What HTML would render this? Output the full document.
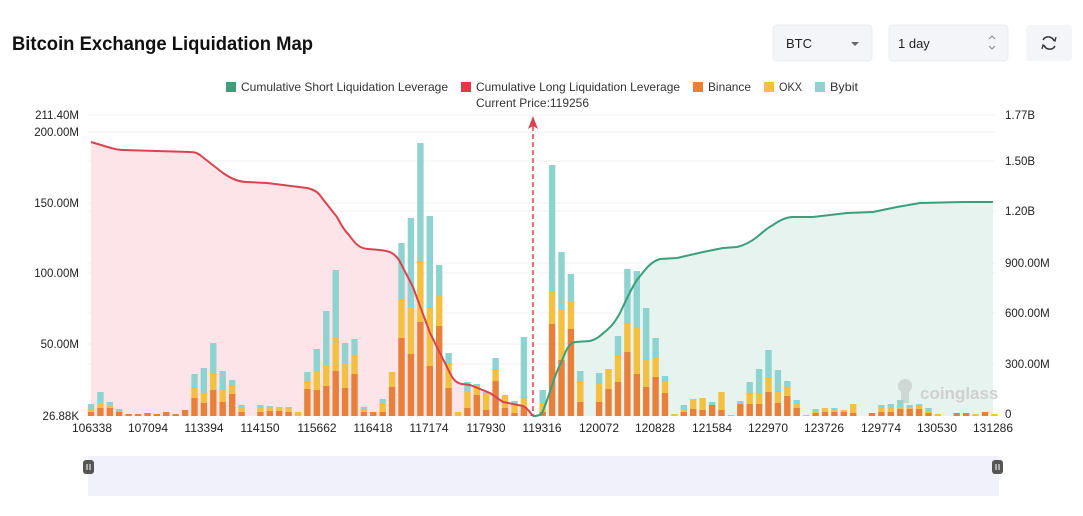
<!DOCTYPE html>
<html><head><meta charset="utf-8"><style>
html,body{margin:0;padding:0;background:#fff;}
svg{display:block;font-family:"Liberation Sans",sans-serif;}
</style></head><body>
<svg id="s" width="1083" height="516" viewBox="0 0 1083 516" xmlns="http://www.w3.org/2000/svg">
<text x="12" y="50" font-size="19" font-weight="bold" fill="#111" textLength="301" lengthAdjust="spacingAndGlyphs">Bitcoin Exchange Liquidation Map</text>
<rect x="773" y="25" width="99" height="36" rx="4" fill="#f4f5f8" stroke="#ebecef"/>
<text x="786" y="48" font-size="13" fill="#222">BTC</text>
<path d="M851 42 l4 4 l4 -4z" fill="#666"/>
<rect x="889" y="25" width="119" height="36" rx="4" fill="#f4f5f8" stroke="#ebecef"/>
<text x="898" y="48" font-size="13" fill="#222">1 day</text>
<path d="M989 39 l3 -3 l3 3 M989 46 l3 3 l3 -3" stroke="#888" fill="none" stroke-width="1"/>
<rect x="1026" y="25" width="46" height="36" rx="4" fill="#f4f5f8"/>
<path d="M1043 40 a6 6 0 0 1 11 1 M1055 46 a6 6 0 0 1 -11 -1" stroke="#333" fill="none" stroke-width="1.5"/>
<path d="M1052 38 l3 3 l1 -4 M1046 48 l-3 -3 l-1 4" stroke="#333" fill="none" stroke-width="1.3"/>
<g font-size="12" fill="#333">
<rect x="226" y="82" width="10" height="10" fill="#3aa07a"/><text x="241" y="91" textLength="207" lengthAdjust="spacingAndGlyphs">Cumulative Short Liquidation Leverage</text>
<rect x="461" y="82" width="10" height="10" fill="#e03848"/><text x="476" y="91" textLength="204" lengthAdjust="spacingAndGlyphs">Cumulative Long Liquidation Leverage</text>
<rect x="693" y="82" width="10" height="10" fill="#e8803a"/><text x="708" y="91" textLength="43" lengthAdjust="spacingAndGlyphs">Binance</text>
<rect x="764" y="82" width="10" height="10" fill="#f4c042"/><text x="779" y="91" textLength="23" lengthAdjust="spacingAndGlyphs">OKX</text>
<rect x="815" y="82" width="10" height="10" fill="#8ed3d0"/><text x="830" y="91" textLength="28" lengthAdjust="spacingAndGlyphs">Bybit</text>
<text x="476" y="107" textLength="113" lengthAdjust="spacingAndGlyphs">Current Price:119256</text>
</g>
<g stroke="#f0f0f0" stroke-width="1">
<line x1="88" x2="995" y1="115" y2="115"/><line x1="88" x2="995" y1="132" y2="132"/><line x1="88" x2="995" y1="161" y2="161"/><line x1="88" x2="995" y1="203" y2="203"/><line x1="88" x2="995" y1="211" y2="211"/><line x1="88" x2="995" y1="263" y2="263"/><line x1="88" x2="995" y1="273" y2="273"/><line x1="88" x2="995" y1="313" y2="313"/><line x1="88" x2="995" y1="344" y2="344"/><line x1="88" x2="995" y1="364" y2="364"/>
</g>
<g font-size="11.5" fill="#222">
<text x="79" y="119" text-anchor="end">211.40M</text>
<text x="79" y="136" text-anchor="end">200.00M</text>
<text x="79" y="207" text-anchor="end">150.00M</text>
<text x="79" y="277" text-anchor="end">100.00M</text>
<text x="79" y="348" text-anchor="end">50.00M</text>
<text x="79" y="420" text-anchor="end">26.88K</text>
<text x="1005" y="119">1.77B</text>
<text x="1005" y="165">1.50B</text>
<text x="1005" y="215">1.20B</text>
<text x="1005" y="267">900.00M</text>
<text x="1005" y="317">600.00M</text>
<text x="1005" y="368">300.00M</text>
<text x="1005" y="418">0</text>
</g>
<path d="M91 142 C105 146 115 150 123 150 L190 152 C195 152 197 153 200 155 L223 173 C233 180 240 182 247 182 L267 183 L307 188 C315 190 318 192 322 198 L337 217 C342 226 344 230 349 235 C355 243 358 248 368 249 L380 250 C390 251 394 253 399 260 L413 287 L430 333 L447 367 C452 378 455 383 462 384 L470 385 L490 393 L503 402 L523 406 C528 408 530 413 533 416 L91 416 Z" fill="#fce4e8"/>
<path d="M533 416 C538 416 540 415 542 413 C550 395 555 372 561 363 C566 350 569 343 575 342 L590 341 C598 339 602 334 607 330 C613 325 616 320 620 313 C627 298 632 287 637 280 C645 270 650 262 660 259 L677 258 L703 252 L723 248 L737 247 C745 245 752 241 757 237 C763 232 767 228 773 225 C780 220 786 217 793 217 L813 217 L847 213 L873 212 L897 207 L920 203 L963 202 L993 202 L993 416 Z" fill="#e6f3ef"/>
<g opacity="0.3"><circle cx="905" cy="386" r="7" fill="#999"/><rect x="901" y="391" width="8" height="12" fill="#999"/></g>
<text x="920" y="399" font-size="17" font-weight="bold" fill="#d0d0d0">coinglass</text>
<g id="bars"></g>
<path d="M91 142 C105 146 115 150 123 150 L190 152 C195 152 197 153 200 155 L223 173 C233 180 240 182 247 182 L267 183 L307 188 C315 190 318 192 322 198 L337 217 C342 226 344 230 349 235 C355 243 358 248 368 249 L380 250 C390 251 394 253 399 260 L413 287 L430 333 L447 367 C452 378 455 383 462 384 L470 385 L490 393 L503 402 L523 406 C528 408 530 413 533 416" fill="none" stroke="#d9434e" stroke-width="2"/>
<path d="M533 416 C538 416 540 415 542 413 C550 395 555 372 561 363 C566 350 569 343 575 342 L590 341 C598 339 602 334 607 330 C613 325 616 320 620 313 C627 298 632 287 637 280 C645 270 650 262 660 259 L677 258 L703 252 L723 248 L737 247 C745 245 752 241 757 237 C763 232 767 228 773 225 C780 220 786 217 793 217 L813 217 L847 213 L873 212 L897 207 L920 203 L963 202 L993 202" fill="none" stroke="#3aa07a" stroke-width="2"/>
<line x1="533" y1="126" x2="533" y2="416" stroke="#d9434e" stroke-width="1.5" stroke-dasharray="5,3"/>
<path d="M533 116 l-5 13 l5 -3 l5 3z" fill="#d9434e"/>
<g font-size="12" fill="#222" text-anchor="middle">
<text x="92" y="432">106338</text><text x="148" y="432">107094</text><text x="204" y="432">113394</text><text x="260" y="432">114150</text><text x="317" y="432">115662</text><text x="373" y="432">116418</text><text x="429" y="432">117174</text><text x="486" y="432">117930</text><text x="542" y="432">119316</text><text x="599" y="432">120072</text><text x="655" y="432">120828</text><text x="712" y="432">121584</text><text x="768" y="432">122970</text><text x="824" y="432">123726</text><text x="881" y="432">129774</text><text x="937" y="432">130530</text><text x="993" y="432">131286</text>
</g>
<rect x="88" y="456" width="911" height="40" fill="#f1f1fb"/>
<rect x="83" y="460" width="11" height="14" rx="3" fill="#555"/>
<rect x="992" y="460" width="11" height="14" rx="3" fill="#555"/>
<path d="M87 464v6M90 464v6M996 464v6M999 464v6" stroke="#fff" stroke-width="1"/>
</svg>
<script>
var L=[[12,6,4],[24,13,8],[14,11,8],[7,4,4],[2,2,2],[2,2,2],[3,3,3],[2,2,2],[4,4,4],[2,2,2],[6,6,6],[42,29,18],[48,22,13],[73,42,26],[45,27,14],[36,30,22],[11,9,4],[0,0,0],[11,9,4],[10,8,5],[9,8,5],[9,8,4],[4,4,0],[44,34,27],[67,44,26],[105,50,30],[146,78,45],[73,53,28],[77,60,42],[9,6,4],[4,4,4],[17,12,4],[44,44,29],[173,116,78],[198,109,62],[273,154,94],[200,109,50],[151,120,90],[63,52,28],[4,4,0],[34,24,8],[32,31,21],[24,23,6],[58,47,35],[21,21,8],[15,11,3],[79,19,9],[1,1,1],
[26,12,4],[251,124,92],[164,107,56],[142,114,87],[45,34,14],[0,0,0],[43,32,14],[47,47,27],[80,60,34],[147,92,64],[145,88,42],[108,57,29],[78,59,39],[40,34,23],[2,2,0],[11,7,4],[17,17,7],[18,18,6],[14,11,11],[24,24,6],[1,1,0],[15,13,12],[34,22,12],[47,22,12],[66,39,24],[46,25,13],[35,28,20],[16,13,8],[1,1,0],[7,4,3],[8,8,4],[8,7,4],[6,6,4],[12,12,3],[0,0,0],[3,3,3],[11,9,4],[12,8,4],[16,9,7],[11,9,7],[12,10,7],[8,4,3],[2,2,0],[0,0,0],[3,3,3],[3,3,3],[2,2,0],[4,4,4],[2,2,0]];
var g=document.getElementById('bars'),h='',B=416;
for(var i=0;i<L.length;i++){var cx=91+i*9.41,x=(cx-3.2).toFixed(1),d=L[i];
function r(t,b,c){if(t>b)h+='<rect x="'+x+'" y="'+(B-t)+'" width="6.4" height="'+(t-b)+'" fill="'+c+'"/>';}
r(d[0],d[1],'#8ed3d0');r(d[1],d[2],'#f4c042');r(d[2],0,'#e8803a');}
g.innerHTML=h;
</script>
</body></html>
